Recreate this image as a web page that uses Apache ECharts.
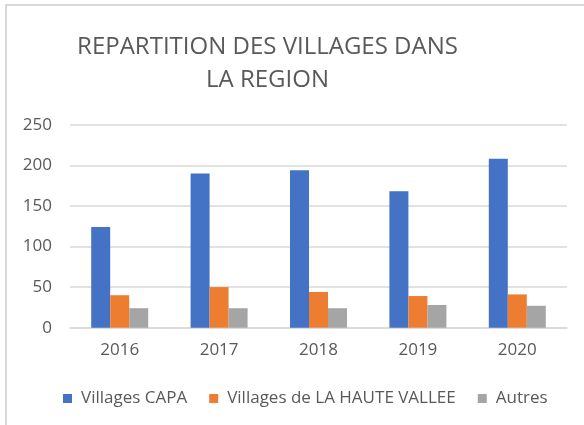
<!DOCTYPE html>
<html>
<head>
<meta charset="utf-8">
<script src="https://cdn.jsdelivr.net/npm/echarts@6/dist/echarts.min.js"></script>
<style>html,body{margin:0;padding:0;background:#fff;}#c{width:584px;height:425px;}</style>
</head>
<body>
<div id="c"></div>
<script>
const categories = ['2016', '2017', '2018', '2019', '2020'];
const capa = [124, 190, 194, 168, 208];
const hauteVallee = [40, 50, 44, 39, 41];
const autres = [24, 24, 24, 28, 27];
const yTicks = [0, 50, 100, 150, 200, 250];

const font = 'Open Sans';
const chart = echarts.init(document.getElementById('c'), null, {renderer: 'canvas'});
chart.setOption({
  animation: false,
  backgroundColor: '#fff',
  graphic: [{
    type: 'rect', shape: {x: 6, y: 5, width: 640, height: 500},
    style: {fill: 'none', stroke: '#d9d9d9', lineWidth: 2}, silent: true, z: -1
  }, {
    type: 'text', x: 267.5, y: 63.5,
    style: {
      text: 'REPARTITION DES VILLAGES DANS\nLA REGION',
      font: 'normal 24px "Open Sans"', fill: '#595959',
      align: 'center', verticalAlign: 'middle', lineHeight: 33
    },
    silent: true
  }],
  legend: {
    top: 385, left: 58, itemWidth: 9, itemHeight: 9, itemGap: 22,
    icon: 'rect',
    textStyle: {fontFamily: font, fontSize: 17, color: '#595959', padding: [0, 0, 0, 4]},
    data: ['Villages CAPA', 'Villages de LA HAUTE VALLEE', 'Autres']
  },
  grid: {left: 70, right: 17, top: 124.7, bottom: 97.3},
  xAxis: {
    type: 'category', data: categories,
    axisLine: {show: true, lineStyle: {color: '#d9d9d9', width: 1.5}},
    axisTick: {show: false},
    axisLabel: {fontFamily: font, fontSize: 17, color: '#595959', margin: 14}
  },
  yAxis: {
    type: 'value', min: yTicks[0], max: yTicks[yTicks.length - 1], interval: 50,
    axisLine: {show: false}, axisTick: {show: false},
    axisLabel: {fontFamily: font, fontSize: 17, color: '#595959', margin: 18},
    splitLine: {lineStyle: {color: '#d9d9d9', width: 1.5}}
  },
  series: [
    {name: 'Villages CAPA', type: 'bar', data: capa, barWidth: 19, barGap: '0%', itemStyle: {color: '#4472c4'}},
    {name: 'Villages de LA HAUTE VALLEE', type: 'bar', data: hauteVallee, barWidth: 19, barGap: '0%', itemStyle: {color: '#ed7d31'}},
    {name: 'Autres', type: 'bar', data: autres, barWidth: 19, barGap: '0%', itemStyle: {color: '#a5a5a5'}}
  ]
});
</script>
</body>
</html>
